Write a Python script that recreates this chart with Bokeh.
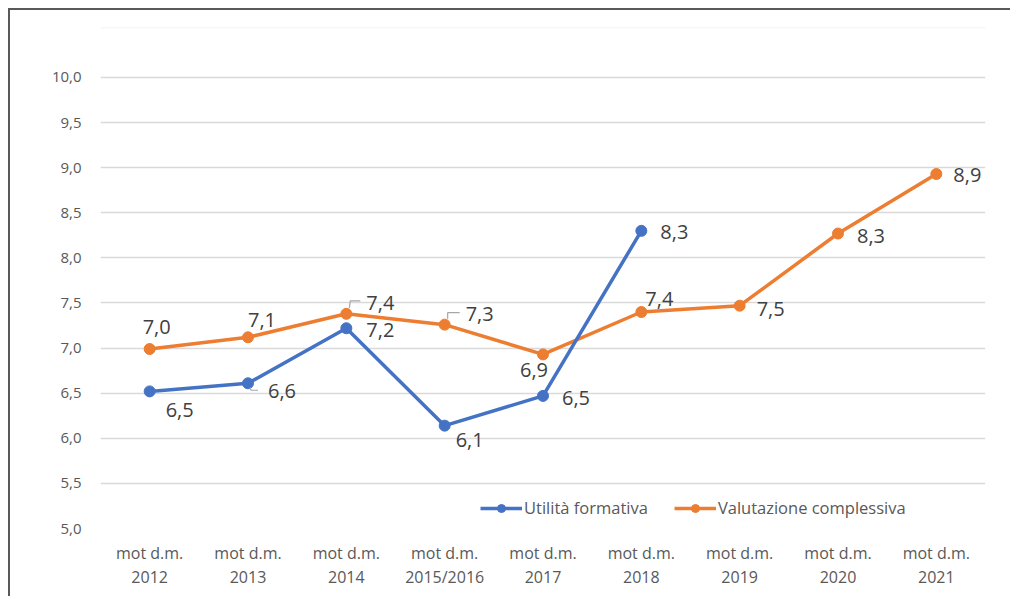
from bokeh.plotting import figure
from bokeh.models import (FactorRange, Range1d, FixedTicker, CustomJSTickFormatter,
                          Legend, LegendItem, ColumnDataSource, Span)
from bokeh.core.properties import value
from bokeh.embed import file_html
from bokeh.resources import INLINE

# ---------------- data ----------------
categories = ["mot d.m.\n2012", "mot d.m.\n2013", "mot d.m.\n2014", "mot d.m.\n2015/2016",
              "mot d.m.\n2017", "mot d.m.\n2018", "mot d.m.\n2019", "mot d.m.\n2020",
              "mot d.m.\n2021"]
utilita = [6.52, 6.61, 7.22, 6.14, 6.47, 8.30]
valutazione = [6.99, 7.12, 7.38, 7.26, 6.93, 7.40, 7.47, 8.27, 8.93]
y_ticks = [5.0, 5.5, 6.0, 6.5, 7.0, 7.5, 8.0, 8.5, 9.0, 9.5, 10.0]
series_names = ["Utilità formativa", "Valutazione complessiva"]

# ---------------- style / layout ----------------
BLUE = "#4472C4"
ORANGE = "#ED7D31"
FONT = "Open Sans"
W, H = 1002, 588
ML, MR, MT, MB = 90, 27, 17, 70
Y0, Y1 = 5.0, 10.554

# label offsets (px, left edge / vertical centre relative to point; +dy = down)
u_off = [(16, 19), (20, 8), (20, 2), (11, 14), (19, 2), (19, 1)]
v_off = [(-7, -22), (0, -17), (20, -11), (21, -11), (-23, 16), (4, -13), (17, 3), (19, 2), (17, 1)]
# leader lines: (series, index, polyline of px offsets)
leaders = [("u", 1, [(2, 4), (3, 7), (10, 7)]),
           ("v", 2, [(3, -6), (4, -13), (14, -13)]),
           ("v", 3, [(3, -6), (3, -12), (15, -12)])]

p = figure(width=W, height=H, x_range=FactorRange(*categories, range_padding=0),
           y_range=Range1d(Y0, Y1), output_backend="svg", toolbar_location=None,
           min_border_left=ML, min_border_right=MR, min_border_top=MT, min_border_bottom=MB)
p.styles = {"border-left": "2px solid #595959", "border-top": "2px solid #595959",
            "border-right": "none", "border-bottom": "none",
            "margin-left": "8px", "margin-top": "8px"}
p.outline_line_color = None
p.border_fill_color = "white"
p.background_fill_color = "white"

# axes
p.yaxis.ticker = FixedTicker(ticks=y_ticks)
p.yaxis.formatter = CustomJSTickFormatter(code="return tick.toFixed(1).replace('.', ',');")
p.yaxis.axis_line_color = None
p.yaxis.major_tick_line_color = None
p.yaxis.minor_tick_line_color = None
p.yaxis.major_label_standoff = 13
p.yaxis.major_label_text_font = FONT
p.yaxis.major_label_text_font_size = "15px"
p.yaxis.major_label_text_color = "#595959"

p.xaxis.axis_line_color = None
p.xaxis.major_tick_line_color = None
p.xaxis.minor_tick_line_color = None
p.xaxis.major_label_standoff = 7
p.xaxis.major_label_text_font = FONT
p.xaxis.major_label_text_font_size = "16px"
p.xaxis.major_label_text_color = "#595959"
p.xaxis.major_label_text_line_height = 1.1

p.xgrid.grid_line_color = None
p.ygrid.grid_line_color = "#d9d9d9"
p.ygrid.grid_line_width = 1.3

p.add_layout(Span(location=Y1, dimension="width", line_color="#f0f0f0", line_width=1.5))

# series
ucats = categories[:len(utilita)]
vr_line = p.line(categories, valutazione, line_color=ORANGE, line_width=3.5)
vr_pts = p.scatter(categories, valutazione, size=11, fill_color=ORANGE, line_color=ORANGE)
ur_line = p.line(ucats, utilita, line_color=BLUE, line_width=3.5)
ur_pts = p.scatter(ucats, utilita, size=11, fill_color=BLUE, line_color=BLUE)

# leader lines
cw = (W - ML - MR) / len(categories)
ppu = (H - MT - MB) / (Y1 - Y0)
for s, i, pts in leaders:
    vals = utilita if s == "u" else valutazione
    xs = [i + 0.5 + dx / cw for dx, dy in pts]
    ys = [vals[i] - dy / ppu for dx, dy in pts]
    p.line(xs, ys, line_color="#a6a6a6", line_width=1.2)

# data labels
def fmt(v):
    return f"{v:.1f}".replace(".", ",")

for cats, vals, offs in ((ucats, utilita, u_off), (categories, valutazione, v_off)):
    src = ColumnDataSource(dict(x=cats, y=vals, t=[fmt(v) for v in vals],
                                dx=[o[0] for o in offs], dy=[o[1] for o in offs]))
    p.text(x="x", y="y", text="t", x_offset="dx", y_offset="dy", source=src,
           text_font=value(FONT), text_font_size="20px", text_color="#404040",
           text_align="left", text_baseline="middle")

legend = Legend(items=[LegendItem(label=series_names[0], renderers=[ur_line, ur_pts]),
                       LegendItem(label=series_names[1], renderers=[vr_line, vr_pts])],
                location=(380, 9), orientation="horizontal")
legend.border_line_color = None
legend.background_fill_alpha = 0
legend.label_text_font = FONT
legend.label_text_font_size = "16.5px"
legend.label_text_color = "#595959"
legend.glyph_width = 42
legend.glyph_height = 20
legend.label_standoff = 2
legend.spacing = 26
legend.padding = 0
legend.margin = 0
p.add_layout(legend, "center")

open("out.html", "w").write(file_html(p, INLINE))
